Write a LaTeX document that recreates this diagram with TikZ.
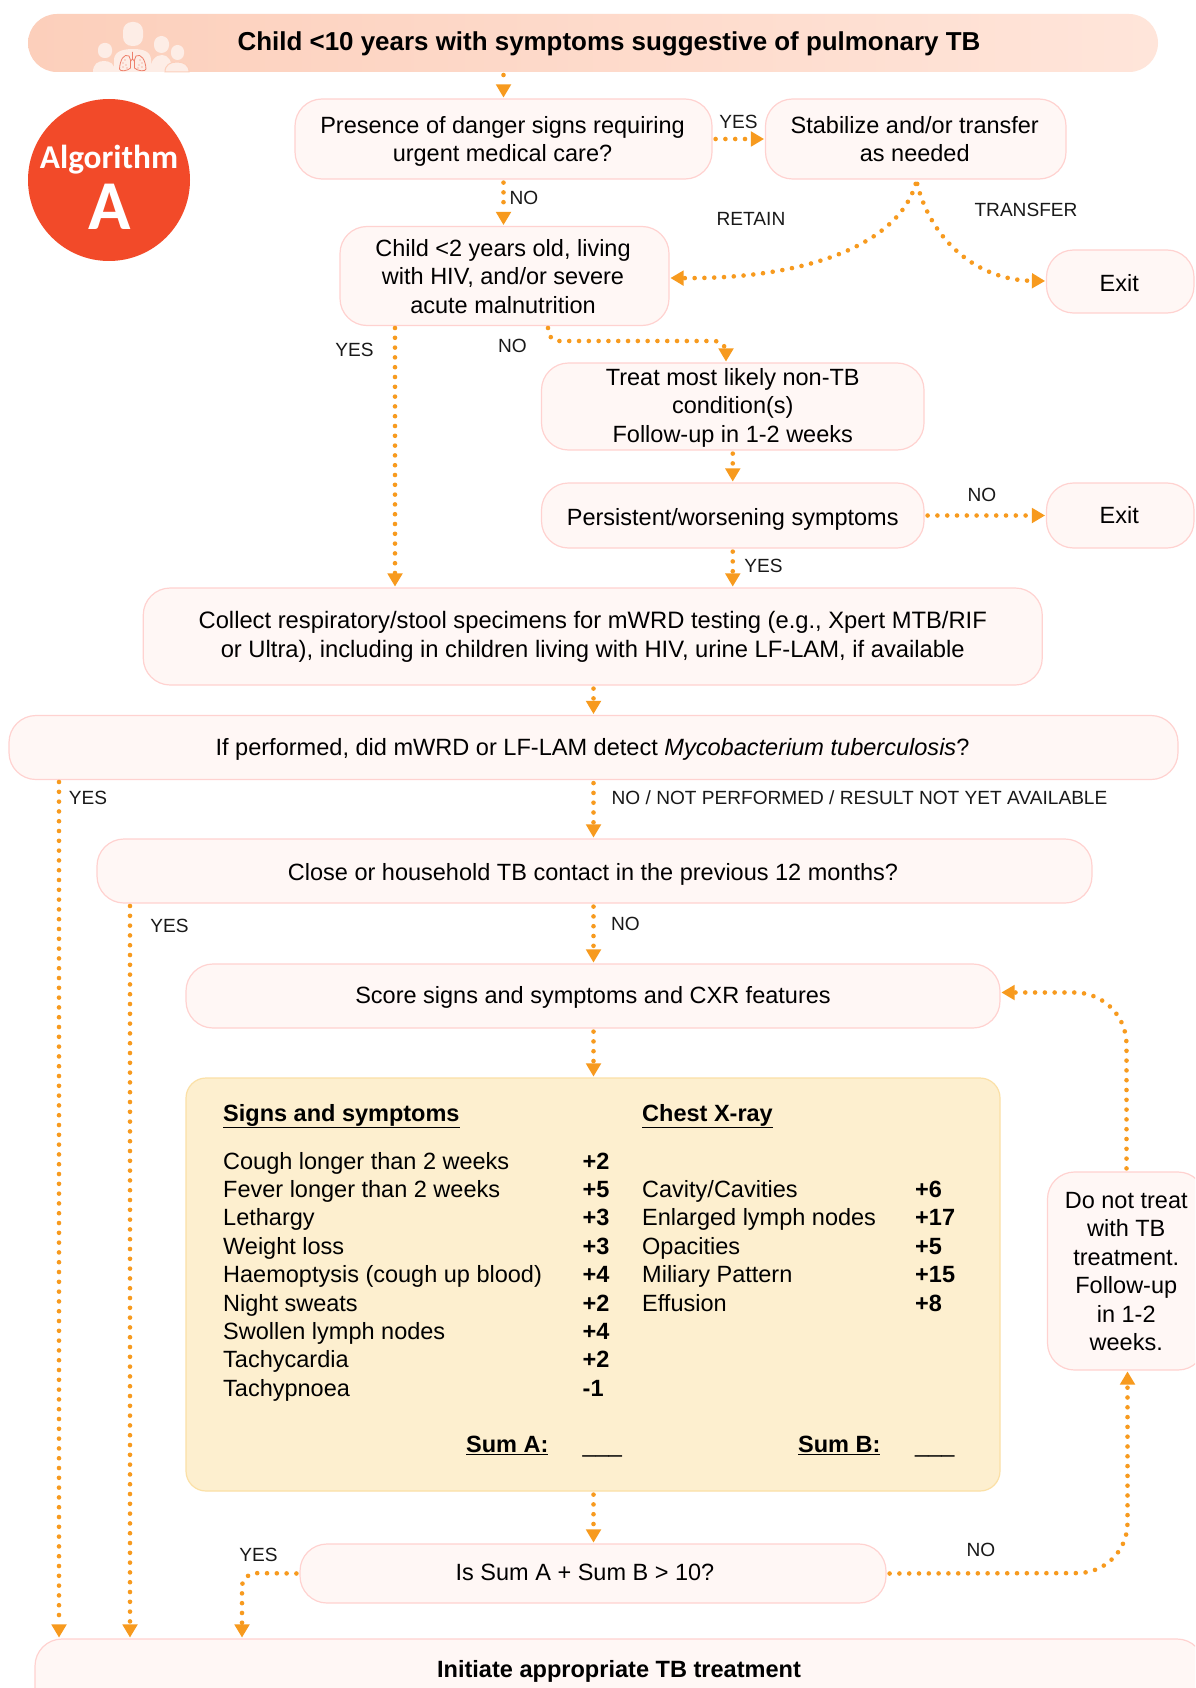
\documentclass[tikz,border=0pt]{standalone}
\usepackage{fontspec}
\setmainfont{Liberation Sans}
\newfontfamily\calib{Carlito}
\usetikzlibrary{arrows.meta}
\definecolor{arrowc}{HTML}{F79A1E}
\definecolor{boxfill}{HTML}{FFF7F5}
\definecolor{boxline}{HTML}{FFD2D0}
\definecolor{bannerc}{HTML}{FCCFBB}
\definecolor{bannerr}{HTML}{FFE5DA}
\definecolor{circc}{HTML}{F24A29}
\definecolor{yellowc}{HTML}{FDEFCF}
\definecolor{yellowl}{HTML}{FBE0A6}
\definecolor{iconc}{HTML}{FDEDE6}
\definecolor{lungc}{HTML}{EE7F6A}
\newcommand\dnl[2]{\raisebox{-#1}[\height][\depth]{#2}}
\newcommand\dnp[3]{\raisebox{-#1}[\height][\depth]{\parbox[c]{#2}{\centering #3}}}
\tikzset{x=1pt,y=-1pt,
  flowbox/.style={draw=boxline,fill=boxfill,line width=1.2pt,rounded corners=27pt,align=center,inner sep=0pt,
    font=\fontsize{23.5}{28.5}\selectfont},
  conn/.style={draw=arrowc,line width=4.6pt,line cap=round,dash pattern=on 0pt off 9.8pt,
    -{Triangle[length=13pt,width=15.5pt,fill=arrowc,line width=0pt,sep=0pt]},shorten <=3pt,shorten >=1pt},
  lab/.style={font=\fontsize{19.1}{22}\selectfont,inner sep=0pt,text=black!90},
  tabtxt/.style={font=\fontsize{23.5}{28}\selectfont,anchor=base west,inner sep=0pt},
  tabval/.style={font=\fontsize{23.5}{28}\bfseries\selectfont,anchor=base west,inner sep=0pt},
  iconp/.style={fill=iconc,draw=none},
}
\begin{document}
\begin{tikzpicture}
\useasboundingbox (0,0) rectangle (1195,1688);
\clip (0,0) rectangle (1195,1688);
\fill[white] (0,0) rectangle (1195,1688);
% banner
\node[draw=none,rounded corners=29pt,left color=bannerc,right color=bannerr,minimum width=1130pt,minimum height=58pt,inner sep=0pt] (banner) at (593,43) {};
% icon
\fill[iconp,rounded corners=9pt] (123,22) rectangle (143,46);
\fill[iconp,rounded corners=6.5pt] (98,43) rectangle (112,58);
\fill[iconp,rounded corners=7.5pt] (154,36) rectangle (169,53);
\fill[iconp,rounded corners=6.5pt] (171,45) rectangle (184,60);
\fill[iconp] (93,72) .. controls (93,64) and (98,61) .. (104,61) .. controls (110,61) and (115,64) .. (115,72) -- cycle;
\fill[iconp] (150,72) .. controls (150,60) and (156,55) .. (162,55) .. controls (168,55) and (172,60) .. (172,72) -- cycle;
\draw[iconp,draw=bannerc,line width=1pt] (165,72) .. controls (165,65) and (170,62) .. (177,62) .. controls (184,62) and (189,65) .. (189,72) -- cycle;
\fill[iconp] (114,72) -- (114,60) .. controls (114,52) and (122,49) .. (133,49) .. controls (144,49) and (151,52) .. (151,60) -- (151,72) -- cycle;
\draw[lungc,line width=.8pt] (132.5,52) -- (132.5,59) (132.5,59) -- (129,63) (132.5,59) -- (136,63);
\draw[lungc,line width=.8pt,fill=iconc] (129,56) .. controls (124,53) and (120,60) .. (119.5,69) .. controls (119.5,72) and (128,71) .. (130.5,68) -- (130.5,60) -- cycle;
\draw[lungc,line width=.8pt,fill=iconc] (136,56) .. controls (141,53) and (145.5,60) .. (146,69) .. controls (146,72) and (137,71) .. (134.5,68) -- (134.5,60) -- cycle;
\foreach \dx/\dy in {123/63,125/60,126/65,123/67,127/68,142/63,140/60,139/65,142/67,138/68}
  \fill[lungc] (\dx,\dy) circle (.6pt);
\node[inner sep=0pt,font=\fontsize{25.93}{30}\bfseries\selectfont] (bannertext) at (609,44) {Child <10 years with symptoms suggestive of pulmonary TB};
% circle
\node[circle,fill=circc,draw=none,minimum size=162pt,inner sep=0pt] (circ) at (109,180) {};
\node[inner sep=0pt,text=white,font=\calib\fontsize{33.3}{36}\bfseries\selectfont] (algw) at (109,160) {Algorithm};
\node[inner sep=0pt,text=white,font=\calib\fontsize{70}{70}\bfseries\selectfont] (alga) at (109.5,207) {A};
% boxes
\node[flowbox,minimum width=417pt,minimum height=80pt] (danger) at (503.5,139) {\dnp{2.5pt}{400pt}{Presence of danger signs requiring\\urgent medical care?}\hspace*{2pt}};
\node[flowbox,minimum width=300.5pt,minimum height=80pt] (stab) at (915.75,139) {\dnp{0pt}{290pt}{Stabilize and/or transfer\\as needed}\hspace*{2pt}};
\node[flowbox,minimum width=329pt,minimum height=99pt] (child) at (504.5,276) {\dnp{.5pt}{320pt}{Child <2 years old, living\\with HIV, and/or severe\\acute malnutrition}\hspace*{3pt}};
\node[flowbox,minimum width=147.5pt,minimum height=63pt] (exita) at (1120.25,281.5) {\dnl{2pt}{Exit}\hspace*{2pt}};
\node[flowbox,minimum width=382.5pt,minimum height=87pt] (treat) at (732.75,406.5) {\dnp{1pt}{370pt}{Treat most likely non-TB\\condition(s)\\Follow-up in 1-2 weeks}};
\node[flowbox,minimum width=382.5pt,minimum height=65pt] (persist) at (732.75,515.5) {\dnl{4pt}{Persistent/worsening symptoms}};
\node[flowbox,minimum width=147.5pt,minimum height=65pt] (exitb) at (1120.25,515.5) {Exit\hspace*{2pt}};
\node[flowbox,font=\fontsize{23.76}{29}\selectfont,minimum width=899pt,minimum height=97pt] (collect) at (592.75,636.5) {Collect respiratory/stool specimens for mWRD testing (e.g., Xpert MTB/RIF\\or Ultra), including in children living with HIV, urine LF-LAM, if available};
\node[flowbox,font=\fontsize{23.55}{28.5}\selectfont,minimum width=1169pt,minimum height=64pt] (ifperf) at (593.5,747.5) {\dnl{2pt}{If performed, did mWRD or LF-LAM detect \textit{Mycobacterium tuberculosis}?}\hspace*{2pt}};
\node[flowbox,minimum width=995pt,minimum height=64pt] (close) at (594.5,871) {\dnl{3pt}{Close or household TB contact in the previous 12 months?}\hspace*{3pt}};
\node[flowbox,minimum width=814pt,minimum height=64pt] (score) at (593,996) {\dnl{1pt}{Score signs and symptoms and CXR features}};
\node[draw=yellowl,fill=yellowc,line width=1.2pt,rounded corners=20pt,minimum width=814pt,minimum height=413pt,inner sep=0pt] (panel) at (593,1284.5) {};
\node[flowbox,minimum width=157.5pt,minimum height=198pt] (dont) at (1126.25,1271) {\dnp{.5pt}{150pt}{Do not treat\\with TB\\treatment.\\Follow-up\\in 1-2\\weeks.}};
\node[flowbox,minimum width=586pt,minimum height=59pt] (issum) at (593,1573.5) {\dnl{-1pt}{Is Sum A + Sum B > 10?}\hspace*{16pt}};
\node[flowbox,minimum width=1169pt,minimum height=80pt] (init) at (619.5,1679) {};
\node[inner sep=0pt,font=\fontsize{23.55}{28}\bfseries\selectfont] (inittext) at (619,1671) {Initiate appropriate TB treatment};
% table
\node[tabtxt,font=\fontsize{23.5}{28}\bfseries\selectfont] (hsigns) at (223,1121) {\underline{Signs and symptoms}};
\node[tabtxt,font=\fontsize{23.5}{28}\bfseries\selectfont] (hchest) at (642,1121) {\underline{Chest X-ray}};
\node[tabtxt] (s1) at (223,1169) {Cough longer than 2 weeks};
\node[tabtxt] (s2) at (223,1197.4) {Fever longer than 2 weeks};
\node[tabtxt] (s3) at (223,1225.8) {Lethargy};
\node[tabtxt] (s4) at (223,1254.2) {Weight loss};
\node[tabtxt] (s5) at (223,1282.6) {Haemoptysis (cough up blood)};
\node[tabtxt] (s6) at (223,1311) {Night sweats};
\node[tabtxt] (s7) at (223,1339.4) {Swollen lymph nodes};
\node[tabtxt] (s8) at (223,1367.8) {Tachycardia};
\node[tabtxt] (s9) at (223,1396.2) {Tachypnoea};
\node[tabval] (v1) at (582.5,1169) {+2};
\node[tabval] (v2) at (582.5,1197.4) {+5};
\node[tabval] (v3) at (582.5,1225.8) {+3};
\node[tabval] (v4) at (582.5,1254.2) {+3};
\node[tabval] (v5) at (582.5,1282.6) {+4};
\node[tabval] (v6) at (582.5,1311) {+2};
\node[tabval] (v7) at (582.5,1339.4) {+4};
\node[tabval] (v8) at (582.5,1367.8) {+2};
\node[tabval] (v9) at (582.5,1396.2) {-1};
\node[tabtxt] (c1) at (642,1197.4) {Cavity/Cavities};
\node[tabtxt] (c2) at (642,1225.8) {Enlarged lymph nodes};
\node[tabtxt] (c3) at (642,1254.2) {Opacities};
\node[tabtxt] (c4) at (642,1282.6) {Miliary Pattern};
\node[tabtxt] (c5) at (642,1311) {Effusion};
\node[tabval] (w1) at (915,1197.4) {+6};
\node[tabval] (w2) at (915,1225.8) {+17};
\node[tabval] (w3) at (915,1254.2) {+5};
\node[tabval] (w4) at (915,1282.6) {+15};
\node[tabval] (w5) at (915,1311) {+8};
\node[tabval] (suma) at (466,1452.5) {\underline{Sum A:}};
\node[tabval,font=\fontsize{23.5}{28}\selectfont] (blanka) at (582.5,1452.5) {\_\_\_};
\node[tabval] (sumb) at (798,1452.5) {\underline{Sum B:}};
\node[tabval,font=\fontsize{23.5}{28}\selectfont] (blankb) at (915,1452.5) {\_\_\_};
% labels
\node[lab] (l1) at (738.5,122) {YES};
\node[lab] (l2) at (524,197.5) {NO};
\node[lab] (l3) at (751,218.5) {RETAIN};
\node[lab] (l4) at (1026,210) {TRANSFER};
\node[lab] (l5) at (354.5,350) {YES};
\node[lab] (l6) at (512.5,346) {NO};
\node[lab] (l7) at (982,495) {NO};
\node[lab] (l8) at (763.5,566) {YES};
\node[lab] (l9) at (88,798) {YES};
\node[lab,anchor=west] (l10) at (611.5,798) {NO / NOT PERFORMED / RESULT NOT YET AVAILABLE};
\node[lab] (l11) at (169.5,926) {YES};
\node[lab] (l12) at (625.5,924) {NO};
\node[lab] (l13) at (258.5,1555) {YES};
\node[lab] (l14) at (981,1550) {NO};
% connector helper coordinates
\coordinate (pa) at (503.5,72);
\coordinate (mid) at (593.5,0);
\coordinate (stabb) at (916.5,181);
\coordinate (childout) at (548,325);
\coordinate (childc1) at (548,341);
\coordinate (childc2) at (726,341);
\coordinate (yesin) at (242,1573);
\coordinate (noin) at (1127.5,1573);
\coordinate (dontin) at (1126.5,992.5);
\coordinate (leftx) at (59,779);
\coordinate (ctx) at (130,903);
\coordinate (childx) at (395,325);
% connectors
\draw[conn] (pa) -- (pa |- danger.north);
\draw[conn] (danger.east |- 0,139) -- (stab.west |- 0,139);
\draw[conn] (pa |- danger.south) -- (pa |- child.north);
\draw[conn] (stabb) .. controls +(-18,62) and (810,279) .. (child.east |- 0,278);
\draw[conn] (stabb) .. controls +(14,57) and (975,280) .. (exita.west |- 0,281);
\draw[conn,rounded corners=11pt] (childout) -- (childc1) -- (childc2) -- (childc2 |- treat.north);
\draw[conn] (treat.south) -- (persist.north);
\draw[conn] (persist.east) -- (exitb.west);
\draw[conn] (persist.south) -- (persist.south |- collect.north);
\draw[conn] (childx) -- (childx |- collect.north);
\draw[conn] (mid |- collect.south) -- (mid |- ifperf.north);
\draw[conn] (mid |- ifperf.south) -- (mid |- close.north);
\draw[conn] (leftx) -- (leftx |- init.north);
\draw[conn] (mid |- close.south) -- (mid |- score.north);
\draw[conn] (ctx) -- (ctx |- init.north);
\draw[conn] (mid |- score.south) -- (mid |- panel.north);
\draw[conn] (mid |- panel.south) -- (mid |- issum.north);
\draw[conn,rounded corners=14pt] (issum.west) -- (yesin) -- (yesin |- init.north);
\draw[conn,rounded corners=50pt] (issum.east) -- (noin) -- (noin |- dont.south);
\draw[conn,rounded corners=52pt] (dontin |- dont.north) -- (dontin) -- (score.east |- dontin);
\end{tikzpicture}
\end{document}
